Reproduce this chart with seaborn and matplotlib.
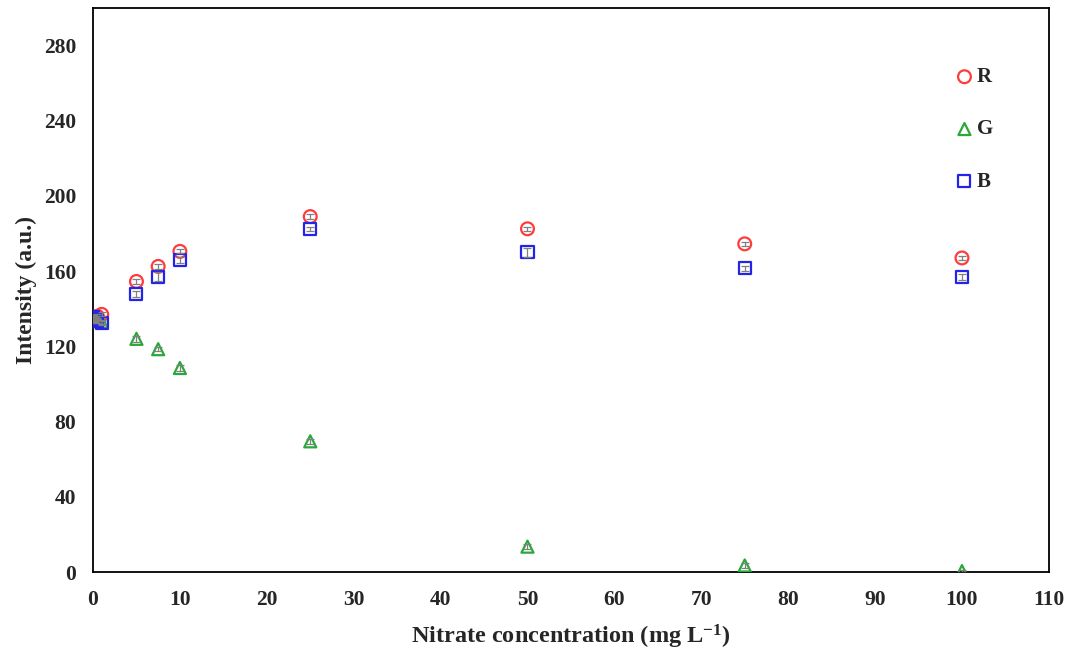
import numpy as np
import pandas as pd
import matplotlib
matplotlib.use("Agg")
import matplotlib.pyplot as plt
import seaborn as sns

# Nitrate concentration (mg/L) and mean channel intensities
conc = [0, 0.25, 0.5, 1, 5, 7.5, 10, 25, 50, 75, 100]
red = [135, 135, 136, 137, 154.5, 162.5, 170.5, 189, 182.5, 174.5, 167]
green = [134, 134, 133.5, 133, 124, 118.5, 108.5, 69.5, 13.5, 3.5, 0.5]
blue = [135.5, 134.5, 133.5, 132.5, 148, 157, 166, 182.5, 170, 161.5, 157]
# standard deviations (small)
red_sd = [1.0, 1.0, 1.0, 1.0, 1.2, 1.2, 1.0, 1.5, 1.2, 1.2, 1.2]
green_sd = [1.0, 1.0, 1.0, 1.0, 1.5, 1.2, 1.5, 1.5, 1.5, 1.5, 0.8]
blue_sd = [1.0, 1.0, 1.0, 1.0, 1.5, 2.5, 1.5, 1.2, 2.5, 1.2, 1.5]

channels = ["R", "G", "B"]
colors = {"R": "#ff3b3b", "G": "#2aa83a", "B": "#2424e8"}
markers = {"R": "o", "G": "^", "B": "s"}

df = pd.DataFrame({
    "conc": conc * 3,
    "intensity": red + green + blue,
    "sd": red_sd + green_sd + blue_sd,
    "channel": ["R"] * len(conc) + ["G"] * len(conc) + ["B"] * len(conc),
})

sns.set_style("white")
plt.rcParams["font.family"] = ["Liberation Serif", "DejaVu Serif"]
plt.rcParams["font.weight"] = "bold"
plt.rcParams["mathtext.fontset"] = "custom"
plt.rcParams["mathtext.rm"] = "Liberation Serif"
plt.rcParams["mathtext.bf"] = "Liberation Serif:bold"

fig = plt.figure(figsize=(10.74, 6.53), dpi=100)
ax = fig.add_axes([0.0866, 0.124, 0.89, 0.864])

sizes = {"R": 85, "G": 75, "B": 75}
for ch in channels:
    sub = df[df["channel"] == ch]
    sns.scatterplot(data=sub, x="conc", y="intensity", marker=markers[ch],
                    s=sizes[ch], color=colors[ch], facecolors="none",
                    edgecolor=colors[ch], linewidth=1.6, ax=ax, label=ch,
                    zorder=3)
    ax.errorbar(sub["conc"], sub["intensity"], yerr=sub["sd"], fmt="none",
                ecolor="#808080", elinewidth=0.9, capsize=3, capthick=0.9,
                zorder=4)

ax.set_xlim(0, 110)
ax.set_ylim(0, 300)
ax.set_xticks(np.arange(0, 111, 10))
ax.set_yticks(np.arange(0, 281, 40))
ax.tick_params(axis="both", length=0, labelsize=15.5)
ax.tick_params(axis="x", pad=13)
ax.tick_params(axis="y", pad=12)
for lab in ax.get_xticklabels() + ax.get_yticklabels():
    lab.set_fontweight("bold")

for sp in ax.spines.values():
    sp.set_visible(True)
    sp.set_color("black")
    sp.set_linewidth(1.3)

ax.set_xlabel("Nitrate concentration (mg L$\\mathbf{^{-1}}$)", fontsize=17.5,
              fontweight="bold", labelpad=9)
ax.set_ylabel("Intensity (a.u.)", fontsize=17, fontweight="bold", labelpad=5)

leg = ax.legend(loc="upper left", bbox_to_anchor=(0.879, 0.928), frameon=False,
                handletextpad=0.0, labelspacing=1.55, handlelength=1.2,
                prop={"size": 15, "weight": "bold"})

fig.savefig("out.png", dpi=100)
